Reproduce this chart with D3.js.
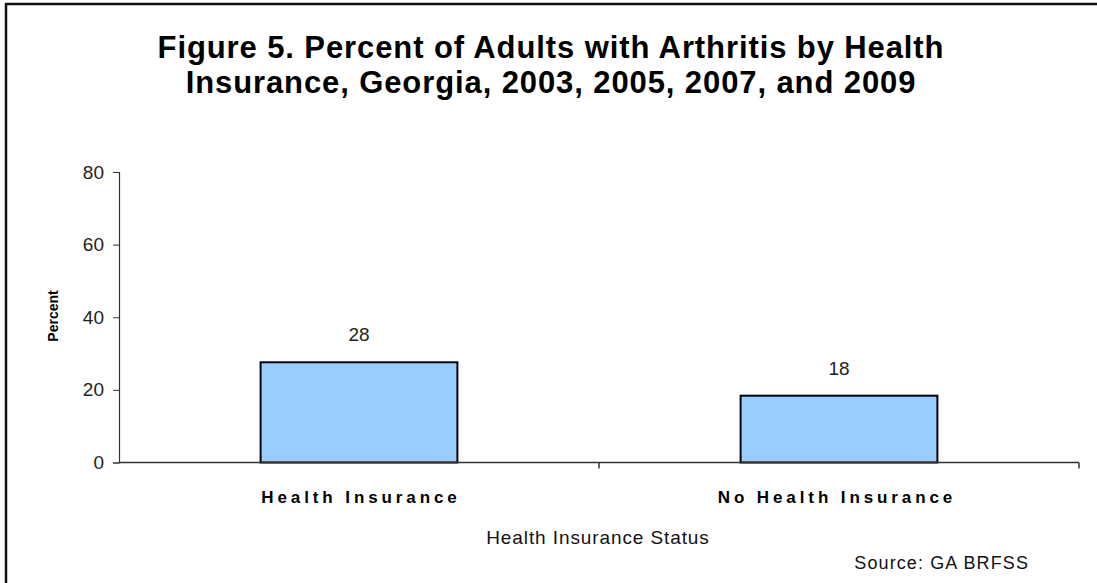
<!DOCTYPE html>
<html><head><meta charset="utf-8">
<script src="https://cdn.jsdelivr.net/npm/d3@7"></script>
<style>body{margin:0;background:#fff}svg{display:block}text{font-family:"Liberation Sans",Arial,sans-serif}</style>
</head><body>
<svg id="c" width="1097" height="583"></svg>
<script>
const titleLines = ["Figure 5. Percent of Adults with Arthritis by Health", "Insurance, Georgia, 2003, 2005, 2007, and 2009"];
const categories = ["Health Insurance", "No Health Insurance"];
const values = [27.6, 18.4];
const yTicks = [0, 20, 40, 60, 80];
const yLabel = "Percent";
const xLabel = "Health Insurance Status";
const source = "Source:  GA BRFSS";

const svg = d3.select("#c");
const m = {left: 119, right: 1079, top: 172, bottom: 462.5};

// frame
svg.append("path").attr("d", "M6,600 L6,4 L1110,4").attr("fill", "none").attr("stroke", "#111").attr("stroke-width", 2.5);

// title
svg.selectAll(".title").data(titleLines).join("text")
  .attr("x", 551).attr("y", (d, i) => 58 + i * 35)
  .attr("text-anchor", "middle").attr("font-size", 31).attr("font-weight", "bold").attr("letter-spacing", 0.9).attr("fill", "#000")
  .text(d => d);

const x = d3.scaleBand().domain(categories).range([m.left, m.right]).paddingInner(0.59).paddingOuter(0.295);
const xb = d3.scaleBand().domain(categories).range([m.left, m.right]);
const y = d3.scaleLinear().domain([0, 80]).range([m.bottom, m.top]);

// bars
svg.selectAll(".bar").data(values).join("rect")
  .attr("x", (d, i) => x(categories[i])).attr("width", x.bandwidth())
  .attr("y", d => y(d)).attr("height", d => y(0) - y(d))
  .attr("fill", "#99CCFF").attr("stroke", "#000").attr("stroke-width", 2);

// y axis
const ya = svg.append("g").attr("transform", `translate(${m.left},0)`)
  .call(d3.axisLeft(y).tickValues(yTicks).tickSize(6).tickPadding(9));
ya.select(".domain").attr("stroke", "#333").attr("stroke-width", 1.2);
ya.selectAll(".tick line").attr("stroke", "#333");
ya.selectAll(".tick text").attr("font-size", 19).attr("fill", "#222").style("font-family", "Liberation Sans, Arial, sans-serif");

// x axis with ticks at band boundaries
const xa = svg.append("g").attr("transform", `translate(0,${m.bottom})`);
xa.append("line").attr("x1", m.left).attr("x2", m.right).attr("stroke", "#333").attr("stroke-width", 1.5);
const bounds = categories.map(c => xb(c) + xb.bandwidth());
xa.selectAll(".xt").data(bounds).join("line")
  .attr("x1", d => d).attr("x2", d => d).attr("y1", 0).attr("y2", 6).attr("stroke", "#333").attr("stroke-width", 1.5);
xa.selectAll(".xl").data(categories).join("text")
  .attr("x", (d, i) => xb(d) + xb.bandwidth() / 2 + (i ? -2 : 2)).attr("y", 40)
  .attr("text-anchor", "middle").attr("font-size", 17).attr("font-weight", "bold").attr("letter-spacing", 3.9).attr("fill", "#000")
  .text(d => d);

// value labels
svg.selectAll(".vl").data(values).join("text")
  .attr("x", (d, i) => x(categories[i]) + x.bandwidth() / 2).attr("y", d => y(d) - 21)
  .attr("text-anchor", "middle").attr("font-size", 19).attr("fill", "#222")
  .text(d => d3.format(".0f")(d));

// axis titles
svg.append("text").attr("transform", "translate(58,316) rotate(-90)")
  .attr("text-anchor", "middle").attr("font-size", 14).attr("font-weight", "bold").attr("fill", "#000").text(yLabel);
svg.append("text").attr("x", 598).attr("y", 544).attr("text-anchor", "middle")
  .attr("font-size", 19).attr("letter-spacing", 0.9).attr("fill", "#111").text(xLabel);
svg.append("text").attr("x", 1029).attr("y", 569).attr("text-anchor", "end")
  .attr("font-size", 18).attr("letter-spacing", 1.1).attr("fill", "#111").text(source);
</script>
</body></html>
